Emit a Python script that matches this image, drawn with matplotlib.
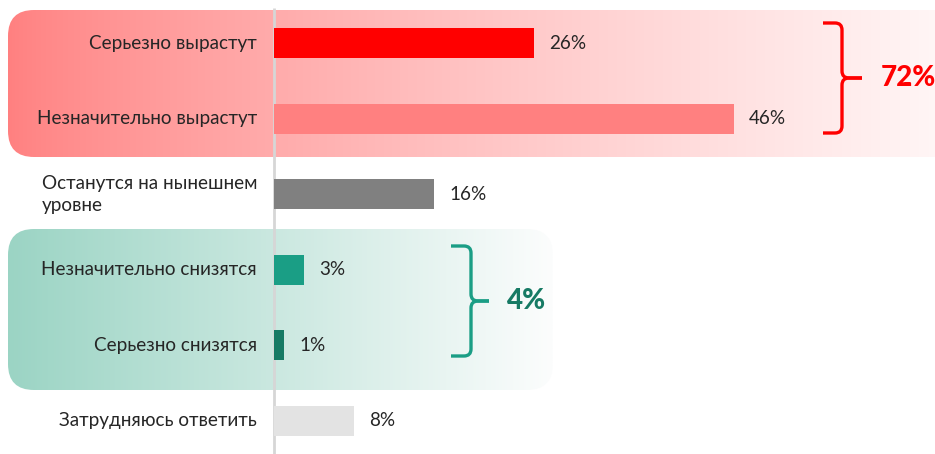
import numpy as np
import matplotlib.pyplot as plt
from matplotlib.patches import FancyBboxPatch
from matplotlib.path import Path
from matplotlib.patches import PathPatch

plt.rcParams['font.family'] = ['Lato', 'DejaVu Sans']

# ---------------------------------------------------------------------------
# Data
# ---------------------------------------------------------------------------
categories = [
    "Серьезно вырастут",
    "Незначительно вырастут",
    "Останутся на нынешнем\nуровне",
    "Незначительно снизятся",
    "Серьезно снизятся",
    "Затрудняюсь ответить",
]
values = [26, 46, 16, 3, 1, 8]
bar_colors = ["#ff0000", "#ff8080", "#808080", "#1a9e85", "#167a64", "#e3e3e3"]

growth_total = "72%"
decline_total = "4%"

# ---------------------------------------------------------------------------
# Layout (pixel grid of the 935x454 canvas)
# ---------------------------------------------------------------------------
W, H = 935, 454
X0_PX = 274          # where 0% sits
PX_PER_PCT = 10.0
ROW0_PX = 43.5       # centre of first row
ROW_PX = 75.5        # row spacing


def px_x(px):
    return (px - X0_PX) / PX_PER_PCT


def px_y(py):
    return (py - ROW0_PX) / ROW_PX


fig = plt.figure(figsize=(W / 100, H / 100), dpi=100)
ax = fig.add_axes([0, 0, 1, 1])
ax.set_xlim(px_x(0), px_x(W))
ax.set_ylim(px_y(H), px_y(0))
ax.axis("off")

aspect = PX_PER_PCT / ROW_PX  # y units per x unit for equal pixel rounding


def gradient_box(x1, y1, x2, y2, c_left, c_right, radius=26, power=1.0):
    bx, by = px_x(x1), px_y(y1)
    bw, bh = px_x(x2) - bx, px_y(y2) - by
    patch = FancyBboxPatch((bx, by), bw, bh,
                           boxstyle=f"round,pad=0,rounding_size={radius / PX_PER_PCT}",
                           mutation_aspect=aspect, facecolor="none",
                           edgecolor="none", zorder=0)
    ax.add_patch(patch)
    t = np.linspace(0, 1, 400) ** power
    c_left, c_right = np.array(c_left) / 255, np.array(c_right) / 255
    grad = c_left[None, :] * (1 - t[:, None]) + c_right[None, :] * t[:, None]
    img = ax.imshow(grad[None, :, :], extent=(bx, bx + bw, by + bh, by),
                    aspect="auto", zorder=0, interpolation="bilinear")
    img.set_clip_path(patch)


gradient_box(8, 10, 960, 157, (255, 128, 128), (255, 248, 248), power=0.8)
gradient_box(8, 229, 553, 390, (155, 212, 196), (252, 253, 253))

# zero line
ax.plot([0, 0], [px_y(8), px_y(H)], color="#d6d6d6", lw=2, zorder=1,
        solid_capstyle="butt")

# bars
y = np.arange(len(categories))
ax.barh(y, values, height=30 / ROW_PX, color=bar_colors, zorder=2)

text_color = "#262626"
for yi, (cat, val) in enumerate(zip(categories, values)):
    ax.text(px_x(257), yi, cat, ha="right", va="center", ma="left",
            fontsize=13.6, color=text_color, linespacing=1.3, zorder=3)
    ax.annotate(f"{val}%", (val, yi), xytext=(15, 0), textcoords="offset pixels",
                ha="left", va="center", fontsize=13.6, color=text_color, zorder=3)


def brace(x_end, x_spine, x_tip, y_top, y_bot, color, r=7, lw=2.4):
    y_mid = (y_top + y_bot) / 2
    for y_e, s in ((y_top, 1), (y_bot, -1)):
        verts = [
            (x_end, y_e), (x_spine - r, y_e),
            (x_spine, y_e), (x_spine, y_e + s * r),
            (x_spine, y_mid - s * r),
            (x_spine, y_mid), (x_spine + r, y_mid),
            (x_tip, y_mid),
        ]
        codes = [Path.MOVETO, Path.LINETO, Path.CURVE3, Path.CURVE3,
                 Path.LINETO, Path.CURVE3, Path.CURVE3, Path.LINETO]
        verts = [(px_x(a), px_y(b)) for a, b in verts]
        ax.add_patch(PathPatch(Path(verts, codes), facecolor="none",
                               edgecolor=color, lw=lw, capstyle="butt",
                               joinstyle="round", zorder=3))
    return y_mid


ym = brace(823, 842, 862, 23, 133, "#ff0000")
ax.text(px_x(881), px_y(ym), growth_total, ha="left", va="center",
        fontsize=20, fontweight="black", color="#ff0000", zorder=3)

ym = brace(451, 471, 489, 246, 356, "#1a9e85")
ax.text(px_x(507), px_y(ym), decline_total, ha="left", va="center",
        fontsize=20, fontweight="black", color="#167a64", zorder=3)

fig.savefig("out.png", dpi=100)
